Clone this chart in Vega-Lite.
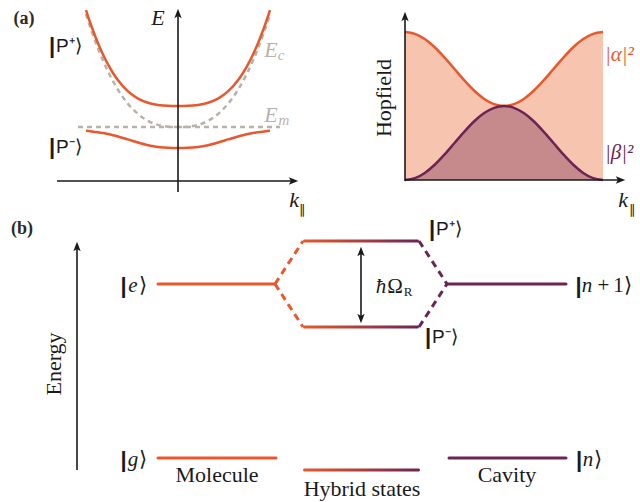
{
  "$schema": "https://vega.github.io/schema/vega-lite/v6.json",
  "width": 640,
  "height": 502,
  "padding": 0,
  "autosize": {"type": "fit", "contains": "padding"},
  "background": "white",
  "config": {"view": {"stroke": null}},
  "datasets": {
    "up": [{"x":86,"y":10.23},{"x":89,"y":19.24},{"x":92,"y":27.72},{"x":98,"y":43.17},{"x":103,"y":54.49},{"x":108,"y":64.44},{"x":113,"y":73.04},{"x":118,"y":80.35},{"x":128,"y":91.45},{"x":138,"y":98.54},{"x":148,"y":102.71},{"x":158,"y":104.91},{"x":168,"y":105.82},{"x":178,"y":106},{"x":188,"y":105.82},{"x":198,"y":104.91},{"x":208,"y":102.71},{"x":218,"y":98.54},{"x":228,"y":91.45},{"x":238,"y":80.35},{"x":243,"y":73.04},{"x":248,"y":64.44},{"x":253,"y":54.49},{"x":258,"y":43.17},{"x":264,"y":27.72},{"x":267,"y":19.24},{"x":270,"y":10.23}],
    "lp": [{"x":86,"y":130.77},{"x":89,"y":131.1},{"x":92,"y":131.44},{"x":98,"y":132.26},{"x":103,"y":133.09},{"x":108,"y":134.05},{"x":113,"y":135.18},{"x":118,"y":136.45},{"x":128,"y":139.41},{"x":138,"y":142.5},{"x":148,"y":145.16},{"x":158,"y":146.96},{"x":168,"y":147.82},{"x":178,"y":148},{"x":188,"y":147.82},{"x":198,"y":146.96},{"x":208,"y":145.16},{"x":218,"y":142.5},{"x":228,"y":139.41},{"x":238,"y":136.45},{"x":243,"y":135.18},{"x":248,"y":134.05},{"x":253,"y":133.09},{"x":258,"y":132.26},{"x":264,"y":131.44},{"x":267,"y":131.1},{"x":270,"y":130.77}],
    "ec": [{"x":86,"y":14},{"x":89,"y":23.33},{"x":92,"y":32.16},{"x":98,"y":48.43},{"x":103,"y":60.57},{"x":108,"y":71.49},{"x":113,"y":81.21},{"x":118,"y":89.8},{"x":128,"y":103.86},{"x":138,"y":114.04},{"x":148,"y":120.87},{"x":158,"y":124.87},{"x":168,"y":126.65},{"x":178,"y":127},{"x":188,"y":126.65},{"x":198,"y":124.87},{"x":208,"y":120.87},{"x":218,"y":114.04},{"x":228,"y":103.86},{"x":238,"y":89.8},{"x":243,"y":81.21},{"x":248,"y":71.49},{"x":253,"y":60.57},{"x":258,"y":48.43},{"x":264,"y":32.16},{"x":267,"y":23.33},{"x":270,"y":14}],
    "alpha": [{"x":405,"y":32},{"x":414.9,"y":33.81},{"x":424.8,"y":39.07},{"x":434.7,"y":47.25},{"x":444.6,"y":57.57},{"x":454.5,"y":69},{"x":464.4,"y":80.43},{"x":474.3,"y":90.75},{"x":484.2,"y":98.93},{"x":494.1,"y":104.19},{"x":504,"y":106},{"x":513.9,"y":104.19},{"x":523.8,"y":98.93},{"x":533.7,"y":90.75},{"x":543.6,"y":80.43},{"x":553.5,"y":69},{"x":563.4,"y":57.57},{"x":573.3,"y":47.25},{"x":583.2,"y":39.07},{"x":593.1,"y":33.81},{"x":603,"y":32}],
    "beta": [{"x":405,"y":180},{"x":414.9,"y":178.19},{"x":424.8,"y":172.93},{"x":434.7,"y":164.75},{"x":444.6,"y":154.43},{"x":454.5,"y":143},{"x":464.4,"y":131.57},{"x":474.3,"y":121.25},{"x":484.2,"y":113.07},{"x":494.1,"y":107.81},{"x":504,"y":106},{"x":513.9,"y":107.81},{"x":523.8,"y":113.07},{"x":533.7,"y":121.25},{"x":543.6,"y":131.57},{"x":553.5,"y":143},{"x":563.4,"y":154.43},{"x":573.3,"y":164.75},{"x":583.2,"y":172.93},{"x":593.1,"y":178.19},{"x":603,"y":180}],
    "em": [{"x":78,"y":127,"x2":280,"y2":127}],
    "axes": [{"x":178,"y":192,"x2":178,"y2":14},{"x":57,"y":181,"x2":293,"y2":181},{"x":405,"y":181,"x2":405,"y2":17},{"x":405,"y":180,"x2":620,"y2":180},{"x":77,"y":470,"x2":77,"y2":247},{"x":361,"y":252,"x2":361,"y2":318}],
    "arrowUp": [{"x":178,"y":14},{"x":405,"y":17},{"x":77,"y":247},{"x":361,"y":252}],
    "arrowRight": [{"x":293,"y":181},{"x":620,"y":180}],
    "arrowDown": [{"x":361,"y":318}],
    "levelMol": [{"x":158,"y":284,"x2":275,"y2":284},{"x":158,"y":458,"x2":276,"y2":458}],
    "levelCav": [{"x":447,"y":284,"x2":566,"y2":284},{"x":449,"y":458,"x2":566,"y2":458}],
    "dashMol": [{"x":275,"y":284,"x2":303,"y2":241},{"x":275,"y":284,"x2":303,"y2":327}],
    "dashCav": [{"x":419,"y":241,"x2":447,"y2":284},{"x":419,"y":327,"x2":447,"y2":284}],
    "levelHyb": [{"x":303,"x2":419,"y":241},{"x":303,"x2":419,"y":327},{"x":303,"x2":420,"y":470}],
    "tBold": [{"x":24,"y":24,"text":"(a)"},{"x":22,"y":234,"text":"(b)"}],
    "tSerif": [{"x":217,"y":482,"text":"Molecule"},{"x":362,"y":496,"text":"Hybrid states"},{"x":507,"y":482,"text":"Cavity"}],
    "tRot": [{"x":384,"y":98,"text":"Hopfield"},{"x":54,"y":364,"text":"Energy"}],
    "tItalicBig": [{"x":158,"y":25,"text":"E"},{"x":294,"y":207,"text":"k"},{"x":623,"y":207,"text":"k"}],
    "tItalicKet": [{"x":133,"y":292,"text":"e"},{"x":133,"y":466,"text":"g"},{"x":587,"y":292,"text":"n"},{"x":588,"y":466,"text":"n"},{"x":381,"y":293,"text":"ħ"}],
    "tBar": [{"x":123.5,"y":293,"text":"|"},{"x":123.5,"y":467,"text":"|"},{"x":578.5,"y":293,"text":"|"},{"x":579,"y":467,"text":"|"},{"x":52,"y":53,"text":"|"},{"x":52,"y":154,"text":"|"},{"x":432,"y":236,"text":"|"},{"x":428,"y":344,"text":"|"}],
    "tUprightKet": [{"x":143,"y":292,"text":"⟩"},{"x":143,"y":466,"text":"⟩"},{"x":603.5,"y":292,"text":"+"},{"x":618.5,"y":292,"text":"1"},{"x":628,"y":292,"text":"⟩"},{"x":598,"y":466,"text":"⟩"},{"x":395,"y":293,"text":"Ω"}],
    "tSmall": [{"x":302.5,"y":214,"text":"∥"},{"x":632,"y":214,"text":"∥"},{"x":408,"y":296,"text":"R"}],
    "tGray": [{"x":271,"y":57,"text":"E"},{"x":271,"y":122,"text":"E"}],
    "tGraySub": [{"x":281,"y":60,"text":"c"},{"x":284,"y":125,"text":"m"}],
    "tKetP": [{"x":56,"y":52,"text":"P⁺⟩"},{"x":56,"y":153,"text":"P⁻⟩"},{"x":436,"y":235,"text":"P⁺⟩"},{"x":432,"y":343,"text":"P⁻⟩"}],
    "tAlpha": [{"x":605,"y":61,"text":"|α|²"}],
    "tBeta": [{"x":605,"y":159,"text":"|β|²"}]
  },
  "encoding": {
    "x": {"field": "x", "type": "quantitative", "scale": {"domain": [0, 640], "nice": false, "zero": false}, "axis": null},
    "y": {"field": "y", "type": "quantitative", "scale": {"domain": [0, 502], "reverse": true, "nice": false, "zero": false}, "axis": null}
  },
  "layer": [
    {"data": {"name": "alpha"}, "mark": {"type": "area", "interpolate": "monotone", "color": "#F6C4AF", "opacity": 1}, "encoding": {"y2": {"datum": 180}}},
    {"data": {"name": "beta"}, "mark": {"type": "area", "interpolate": "monotone", "color": "#C68A8D", "opacity": 1}, "encoding": {"y2": {"datum": 180}}},
    {"data": {"name": "alpha"}, "mark": {"type": "line", "interpolate": "monotone", "color": "#E9582C", "strokeWidth": 2.5}, "encoding": {}},
    {"data": {"name": "beta"}, "mark": {"type": "line", "interpolate": "monotone", "color": "#6C2454", "strokeWidth": 2.5}, "encoding": {}},
    {"data": {"name": "em"}, "mark": {"type": "rule", "color": "#B8B2AB", "strokeWidth": 2.5, "strokeDash": [5, 4]}, "encoding": {"x2": {"field": "x2"}, "y2": {"field": "y2"}}},
    {"data": {"name": "ec"}, "mark": {"type": "line", "interpolate": "monotone", "color": "#B8B2AB", "strokeWidth": 2.5, "strokeDash": [5, 4]}, "encoding": {}},
    {"data": {"name": "up"}, "mark": {"type": "line", "interpolate": "monotone", "color": "#E9582C", "strokeWidth": 2.5}, "encoding": {}},
    {"data": {"name": "lp"}, "mark": {"type": "line", "interpolate": "monotone", "color": "#E9582C", "strokeWidth": 2.5}, "encoding": {}},
    {"data": {"name": "axes"}, "mark": {"type": "rule", "color": "#1a1a1a", "strokeWidth": 1.6}, "encoding": {"x2": {"field": "x2"}, "y2": {"field": "y2"}}},
    {"data": {"name": "arrowUp"}, "mark": {"type": "point", "filled": true, "shape": "M0,-1L0.7,0.8L0,0.4L-0.7,0.8Z", "size": 110, "color": "#1a1a1a", "opacity": 1, "angle": 0}, "encoding": {}},
    {"data": {"name": "arrowRight"}, "mark": {"type": "point", "filled": true, "shape": "M0,-1L0.7,0.8L0,0.4L-0.7,0.8Z", "size": 110, "color": "#1a1a1a", "opacity": 1, "angle": 90}, "encoding": {}},
    {"data": {"name": "arrowDown"}, "mark": {"type": "point", "filled": true, "shape": "M0,-1L0.7,0.8L0,0.4L-0.7,0.8Z", "size": 110, "color": "#1a1a1a", "opacity": 1, "angle": 180}, "encoding": {}},
    {"data": {"name": "levelMol"}, "mark": {"type": "rule", "color": "#E9582C", "strokeWidth": 3, "strokeCap": "round"}, "encoding": {"x2": {"field": "x2"}, "y2": {"field": "y2"}}},
    {"data": {"name": "levelCav"}, "mark": {"type": "rule", "color": "#6C2454", "strokeWidth": 3, "strokeCap": "round"}, "encoding": {"x2": {"field": "x2"}, "y2": {"field": "y2"}}},
    {"data": {"name": "dashMol"}, "mark": {"type": "rule", "color": "#E9582C", "strokeWidth": 3, "strokeDash": [7, 5]}, "encoding": {"x2": {"field": "x2"}, "y2": {"field": "y2"}}},
    {"data": {"name": "dashCav"}, "mark": {"type": "rule", "color": "#6C2454", "strokeWidth": 3, "strokeDash": [7, 5]}, "encoding": {"x2": {"field": "x2"}, "y2": {"field": "y2"}}},
    {"data": {"name": "levelHyb"}, "mark": {"type": "rect", "cornerRadius": 1.5, "yOffset": -1.5, "y2Offset": 1.5, "fill": {"gradient": "linear", "x1": 0, "y1": 0, "x2": 1, "y2": 0, "stops": [{"offset": 0, "color": "#E9582C"}, {"offset": 1, "color": "#6C2454"}]}}, "encoding": {"x2": {"field": "x2"}, "y2": {"field": "y"}}},
    {"data": {"name": "tBold"}, "mark": {"type": "text", "font": "Liberation Serif", "fontWeight": "bold", "fontSize": 18, "align": "center", "baseline": "alphabetic", "color": "#2a2a2a"}, "encoding": {"text": {"field": "text"}}},
    {"data": {"name": "tSerif"}, "mark": {"type": "text", "font": "Liberation Serif", "fontSize": 22, "align": "center", "baseline": "alphabetic", "color": "#1a1a1a"}, "encoding": {"text": {"field": "text"}}},
    {"data": {"name": "tRot"}, "mark": {"type": "text", "font": "Liberation Serif", "fontSize": 22, "align": "center", "baseline": "middle", "angle": 270, "color": "#1a1a1a"}, "encoding": {"text": {"field": "text"}}},
    {"data": {"name": "tItalicBig"}, "mark": {"type": "text", "font": "Liberation Serif", "fontStyle": "italic", "fontSize": 22, "align": "center", "baseline": "alphabetic", "color": "#1a1a1a"}, "encoding": {"text": {"field": "text"}}},
    {"data": {"name": "tItalicKet"}, "mark": {"type": "text", "font": "Liberation Serif", "fontStyle": "italic", "fontSize": 21, "align": "center", "baseline": "alphabetic", "color": "#1a1a1a"}, "encoding": {"text": {"field": "text"}}},
    {"data": {"name": "tBar"}, "mark": {"type": "text", "font": "Liberation Sans", "fontWeight": "bold", "fontSize": 22, "align": "center", "baseline": "alphabetic", "color": "#1a1a1a"}, "encoding": {"text": {"field": "text"}}},
    {"data": {"name": "tUprightKet"}, "mark": {"type": "text", "font": "Liberation Serif", "fontSize": 21, "align": "center", "baseline": "alphabetic", "color": "#1a1a1a"}, "encoding": {"text": {"field": "text"}}},
    {"data": {"name": "tSmall"}, "mark": {"type": "text", "font": "Liberation Serif", "fontSize": 13, "align": "center", "baseline": "alphabetic", "color": "#1a1a1a"}, "encoding": {"text": {"field": "text"}}},
    {"data": {"name": "tGray"}, "mark": {"type": "text", "font": "Liberation Serif", "fontStyle": "italic", "fontSize": 22, "align": "center", "baseline": "alphabetic", "color": "#B8B2AB"}, "encoding": {"text": {"field": "text"}}},
    {"data": {"name": "tGraySub"}, "mark": {"type": "text", "font": "Liberation Serif", "fontStyle": "italic", "fontSize": 15, "align": "center", "baseline": "alphabetic", "color": "#B8B2AB"}, "encoding": {"text": {"field": "text"}}},
    {"data": {"name": "tKetP"}, "mark": {"type": "text", "font": "Liberation Sans", "fontSize": 19, "align": "left", "baseline": "alphabetic", "color": "#1a1a1a"}, "encoding": {"text": {"field": "text"}}},
    {"data": {"name": "tAlpha"}, "mark": {"type": "text", "font": "Liberation Serif", "fontStyle": "italic", "fontSize": 21, "align": "left", "baseline": "alphabetic", "color": "#E9582C"}, "encoding": {"text": {"field": "text"}}},
    {"data": {"name": "tBeta"}, "mark": {"type": "text", "font": "Liberation Serif", "fontStyle": "italic", "fontSize": 21, "align": "left", "baseline": "alphabetic", "color": "#6C2454"}, "encoding": {"text": {"field": "text"}}}
  ]
}
